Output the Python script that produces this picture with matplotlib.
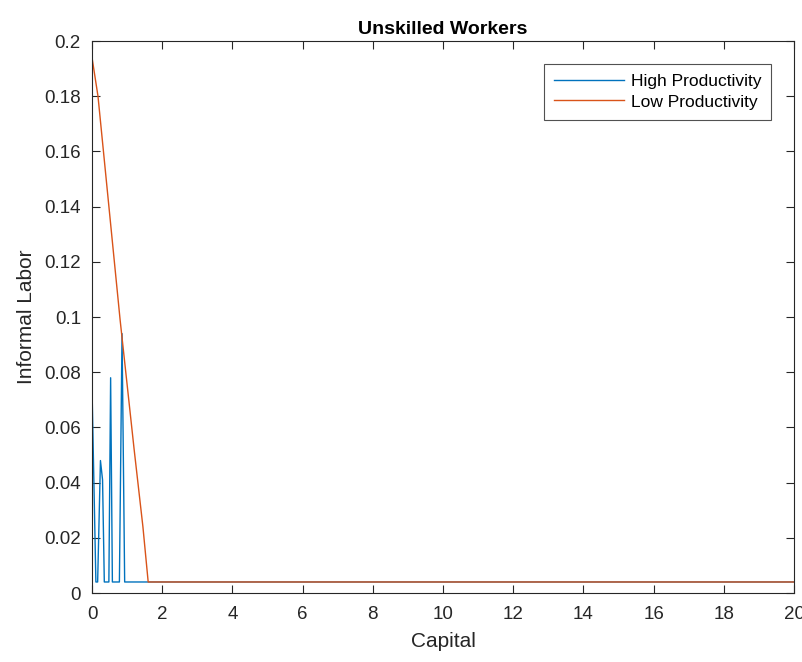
import matplotlib
matplotlib.use("Agg")
import matplotlib.pyplot as plt

# High productivity (blue)
high_x = [0, 0.11, 0.16, 0.24, 0.30, 0.35, 0.48, 0.53, 0.58, 0.78, 0.855, 0.93, 20]
high_y = [0.074, 0.004, 0.004, 0.048, 0.041, 0.004, 0.004, 0.078, 0.004, 0.004, 0.094, 0.004, 0.004]

# Low productivity (orange)
low_x = [0, 0.17, 0.8, 1.2, 1.45, 1.6, 20]
low_y = [0.194, 0.180, 0.099, 0.052, 0.024, 0.004, 0.004]

x_ticks = [0, 2, 4, 6, 8, 10, 12, 14, 16, 18, 20]
y_ticks = [0, 0.02, 0.04, 0.06, 0.08, 0.1, 0.12, 0.14, 0.16, 0.18, 0.2]
y_tick_labels = ["0", "0.02", "0.04", "0.06", "0.08", "0.1", "0.12", "0.14", "0.16", "0.18", "0.2"]

plt.rcParams['font.family'] = ['Liberation Sans', 'DejaVu Sans']

fig = plt.figure(figsize=(8.03, 6.62), dpi=100)
ax = fig.add_axes([0.1146, 0.1042, 0.8742, 0.8338])

ax.plot(high_x, high_y, color='#0072BD', lw=1.0, label='High Productivity')
ax.plot(low_x, low_y, color='#D95319', lw=1.0, label='Low Productivity')

ax.set_xlim(0, 20)
ax.set_ylim(0, 0.2)
ax.set_xticks(x_ticks)
ax.set_yticks(y_ticks)
ax.set_yticklabels(y_tick_labels)
ax.tick_params(direction='in', top=True, right=True, labelsize=13.5, length=6, width=0.8, colors='#262626')
ax.tick_params(axis='x', pad=9)
ax.tick_params(axis='y', pad=8)
for s in ax.spines.values():
    s.set_color('#262626')
    s.set_linewidth(0.8)

ax.set_xlabel('Capital', fontsize=15, color='#262626', labelpad=7)
ax.set_ylabel('Informal Labor', fontsize=15, color='#262626', labelpad=6)
ax.set_title('Unskilled Workers', fontsize=14, fontweight='bold', color='black', pad=5)

leg = ax.legend(loc='upper right', fontsize=12.5, frameon=True, fancybox=False,
                edgecolor='#262626', handlelength=4.0, borderaxespad=1.3,
                handletextpad=0.4, labelspacing=0.3, borderpad=0.6)
leg.get_frame().set_linewidth(0.8)

fig.savefig('out.png', dpi=100)
